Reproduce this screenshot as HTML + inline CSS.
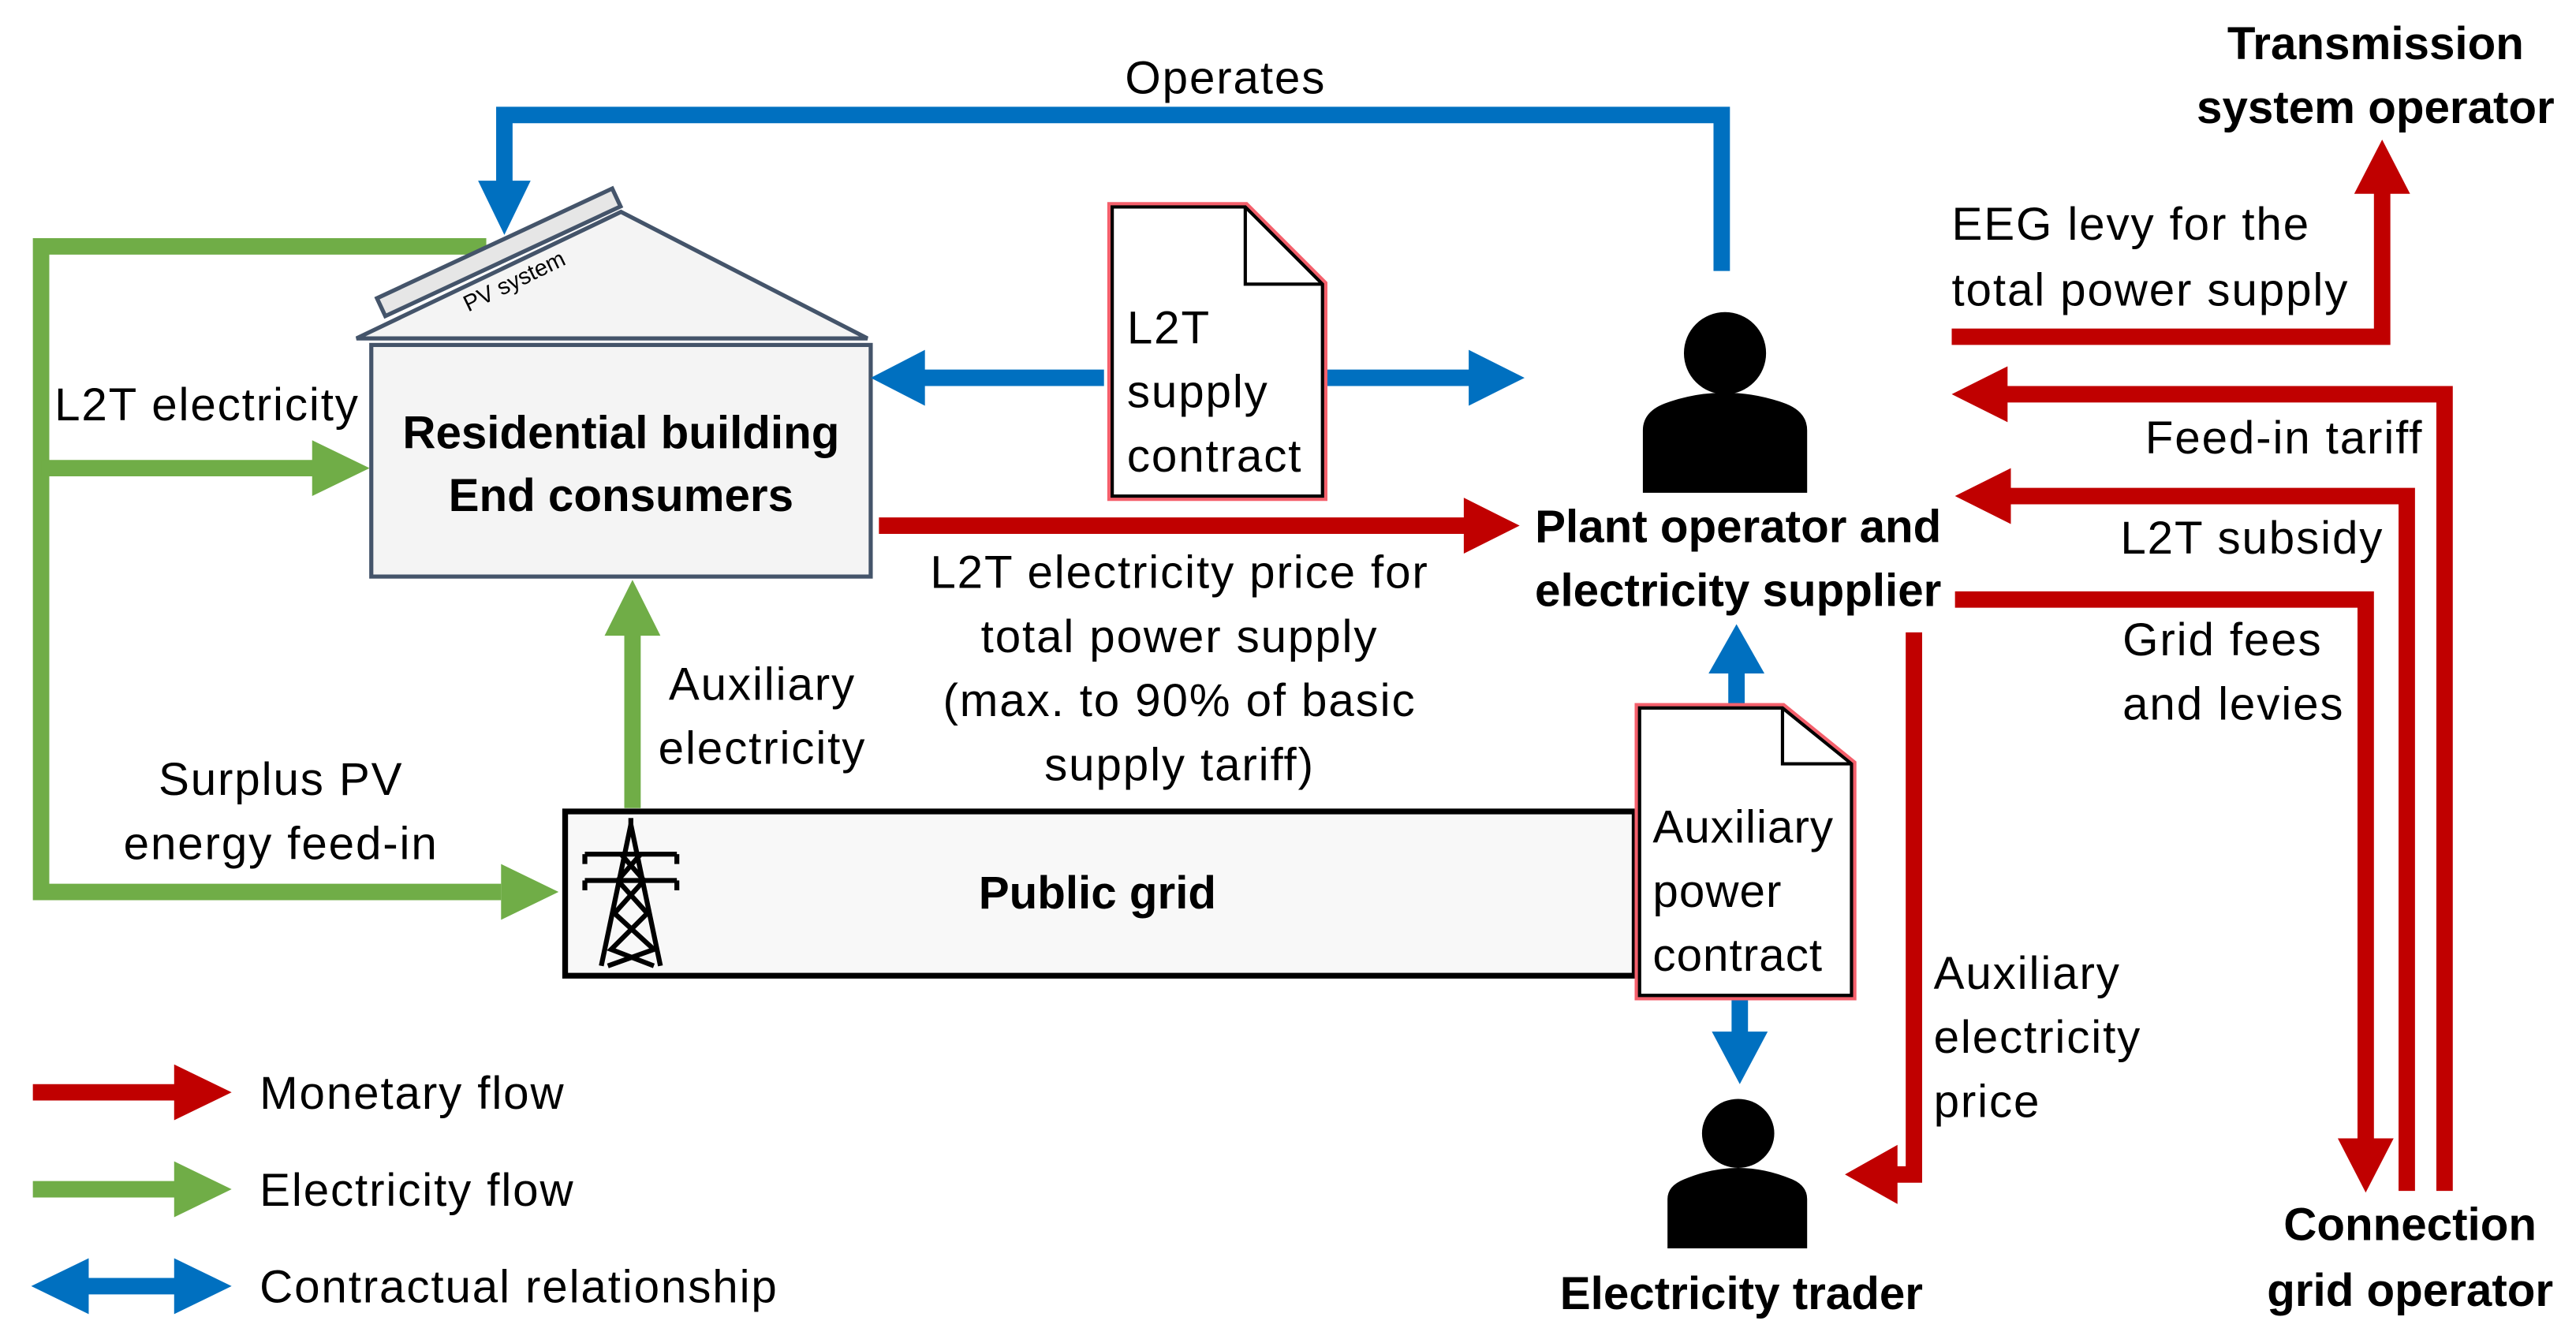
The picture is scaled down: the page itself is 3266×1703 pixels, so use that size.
<!DOCTYPE html>
<html><head><style>html,body{margin:0;padding:0;background:#fff}svg{display:block}</style></head>
<body>
<svg width="3266" height="1703" viewBox="0 0 1568 817.6" xmlns="http://www.w3.org/2000/svg" font-family="Liberation Sans, sans-serif">
<rect width="1568" height="818" fill="#fff"/>
<polyline points="1048,165 1048,70 307,70 307,112" fill="none" stroke="#0070C0" stroke-width="10"/>
<polygon points="291,110 323,110 307,143" fill="#0070C0"/>
<polyline points="296,150 25,150 25,543 305,543" fill="none" stroke="#70AD47" stroke-width="10"/>
<polygon points="305,526 340,543 305,560" fill="#70AD47"/>
<line x1="25" y1="285" x2="192" y2="285" stroke="#70AD47" stroke-width="10"/>
<polygon points="190,268 225,285 190,302" fill="#70AD47"/>
<line x1="385" y1="492" x2="385" y2="385" stroke="#70AD47" stroke-width="10"/>
<polygon points="368,387 385,353 402,387" fill="#70AD47"/>
<polygon points="217,206 378,129 528,206" fill="#f4f4f4" stroke="#44546a" stroke-width="2.5"/>
<g transform="translate(232,187) rotate(-25)"><rect x="0" y="-6" width="158" height="12" fill="#e6e6e6" stroke="#44546a" stroke-width="2.5"/></g>
<text x="0" y="0" font-size="14" transform="translate(285,190) rotate(-26)">PV system</text>
<rect x="226" y="210" width="304" height="141" fill="#f4f4f4" stroke="#44546a" stroke-width="2.5"/>
<g font-size="28" font-weight="bold" text-anchor="middle">
<text x="378" y="273">Residential building</text>
<text x="378" y="311">End consumers</text>
</g>
<line x1="560" y1="230" x2="672" y2="230" stroke="#0070C0" stroke-width="10"/>
<polygon points="563,213 530,230 563,247" fill="#0070C0"/>
<line x1="808" y1="230" x2="897" y2="230" stroke="#0070C0" stroke-width="10"/>
<polygon points="894,213 928,230 894,247" fill="#0070C0"/>
<g fill="#fff">
<polygon points="677,126 758,126 805,173 805,302 677,302" stroke="#F4606C" stroke-width="6"/>
<polygon points="677,126 758,126 805,173 805,302 677,302" stroke="#000" stroke-width="2"/>
<polyline points="758,126 758,173 805,173" stroke="#000" stroke-width="2" fill="none"/>
</g>
<g font-size="28" letter-spacing="0.9">
<text x="686" y="209">L2T</text>
<text x="686" y="248">supply</text>
<text x="686" y="287">contract</text>
</g>
<line x1="535" y1="320" x2="893" y2="320" stroke="#C00000" stroke-width="10"/>
<polygon points="891,303 925,320 891,337" fill="#C00000"/>
<g font-size="28" letter-spacing="0.9" text-anchor="middle">
<text x="718" y="358">L2T electricity price for</text>
<text x="718" y="397">total power supply</text>
<text x="718" y="436">(max. to 90% of basic</text>
<text x="718" y="475">supply tariff)</text>
<text x="746" y="57">Operates</text>
<text x="126" y="256">L2T electricity</text>
<text x="171" y="484">Surplus PV</text>
<text x="171" y="523">energy feed-in</text>
<text x="464" y="426">Auxiliary</text>
<text x="464" y="465">electricity</text>
</g>
<circle cx="1050" cy="215" r="25" fill="#000"/>
<path d="M1000,300 L1000,262 Q1000,250 1015,245 Q1050,233 1085,245 Q1100,250 1100,262 L1100,300 Z" fill="#000"/>
<g font-size="28" font-weight="bold" text-anchor="middle">
<text x="1058" y="330">Plant operator and</text>
<text x="1058" y="369">electricity supplier</text>
</g>
<rect x="344" y="494" width="651" height="100" fill="#f8f8f8" stroke="#000" stroke-width="3.5"/>
<text x="668" y="553" font-size="28" font-weight="bold" text-anchor="middle">Public grid</text>
<g stroke="#000" stroke-width="3" fill="none">
<polyline points="366,588 384,502 402,588"/>
<line x1="384" y1="502" x2="384" y2="498"/>
<line x1="356" y1="520" x2="412" y2="520"/><line x1="356" y1="536" x2="412" y2="536"/>
<line x1="356" y1="520" x2="356" y2="526"/><line x1="412" y1="520" x2="412" y2="526"/>
<line x1="356" y1="536" x2="356" y2="542"/><line x1="412" y1="536" x2="412" y2="542"/>
<polyline points="378,520 392,536 374,556 398,578 370,588"/>
<polyline points="390,520 376,536 394,556 372,578 398,588"/>
</g>
<line x1="1057" y1="430" x2="1057" y2="405" stroke="#0070C0" stroke-width="10"/>
<polygon points="1040,410 1057,380 1074,410" fill="#0070C0"/>
<line x1="1059" y1="607" x2="1059" y2="632" stroke="#0070C0" stroke-width="10"/>
<polygon points="1042,628 1076,628 1059,660" fill="#0070C0"/>
<g fill="#fff">
<polygon points="998,431 1085,431 1127,465 1127,606 998,606" stroke="#F4606C" stroke-width="6"/>
<polygon points="998,431 1085,431 1127,465 1127,606 998,606" stroke="#000" stroke-width="2"/>
<polyline points="1085,431 1085,465 1127,465" stroke="#000" stroke-width="2" fill="none"/>
</g>
<g font-size="28" letter-spacing="0.5">
<text x="1006" y="513">Auxiliary</text>
<text x="1006" y="552">power</text>
<text x="1006" y="591">contract</text>
</g>
<ellipse cx="1058" cy="690" rx="22" ry="21" fill="#000"/>
<path d="M1015,760 L1015,730 Q1015,722 1025,718 Q1058,704 1091,718 Q1100,722 1100,730 L1100,760 Z" fill="#000"/>
<text x="1060" y="797" font-size="28" font-weight="bold" text-anchor="middle">Electricity trader</text>
<polyline points="1165,385 1165,715 1150,715" fill="none" stroke="#C00000" stroke-width="10"/>
<polygon points="1155,697 1123,715 1155,733" fill="#C00000"/>
<g font-size="28" letter-spacing="0.9"><text x="1177" y="602">Auxiliary</text><text x="1177" y="641">electricity</text><text x="1177" y="680">price</text></g>
<polyline points="1188,205 1450,205 1450,115" fill="none" stroke="#C00000" stroke-width="10"/>
<polygon points="1433,118 1450,85 1467,118" fill="#C00000"/>
<polyline points="1488,725 1488,240 1220,240" fill="none" stroke="#C00000" stroke-width="10"/>
<polygon points="1222,223 1188,240 1222,257" fill="#C00000"/>
<polyline points="1465,725 1465,302 1222,302" fill="none" stroke="#C00000" stroke-width="10"/>
<polygon points="1224,285 1190,302 1224,319" fill="#C00000"/>
<polyline points="1190,365 1440,365 1440,695" fill="none" stroke="#C00000" stroke-width="10"/>
<polygon points="1423,693 1457,693 1440,726" fill="#C00000"/>
<g font-size="28" letter-spacing="0.9">
<text x="1188" y="146">EEG levy for the</text>
<text x="1188" y="186">total power supply</text>
<text x="1475" y="276" text-anchor="end">Feed-in tariff</text>
<text x="1451" y="337" text-anchor="end">L2T subsidy</text>
<text x="1292" y="399">Grid fees</text>
<text x="1292" y="438">and levies</text>
</g>
<g font-size="28" font-weight="bold" text-anchor="middle">
<text x="1446" y="36">Transmission</text>
<text x="1446" y="75">system operator</text>
<text x="1467" y="755">Connection</text>
<text x="1467" y="795">grid operator</text>
</g>
<line x1="20" y1="665" x2="108" y2="665" stroke="#C00000" stroke-width="10"/>
<polygon points="106,648 141,665 106,682" fill="#C00000"/>
<line x1="20" y1="724" x2="108" y2="724" stroke="#70AD47" stroke-width="10"/>
<polygon points="106,707 141,724 106,741" fill="#70AD47"/>
<line x1="50" y1="783" x2="108" y2="783" stroke="#0070C0" stroke-width="10"/>
<polygon points="106,766 141,783 106,800" fill="#0070C0"/>
<polygon points="54,766 19,783 54,800" fill="#0070C0"/>
<g font-size="28" letter-spacing="0.9"><text x="158" y="675">Monetary flow</text><text x="158" y="734">Electricity flow</text><text x="158" y="793">Contractual relationship</text></g>
</svg>
</body></html>
